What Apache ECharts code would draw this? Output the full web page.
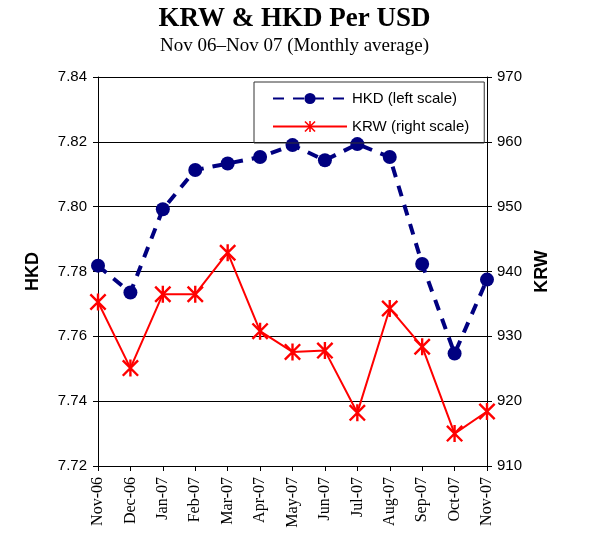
<!DOCTYPE html>
<html>
<head>
<meta charset="utf-8">
<script src="https://cdn.jsdelivr.net/npm/echarts@6/dist/echarts.min.js"></script>
<style>
  html, body { margin: 0; padding: 0; background: #fff; }
  #chart { width: 589px; height: 540px; }
</style>
</head>
<body>
<div id="chart"></div>
<script>
// months on the x axis
var months = ['Nov-06', 'Dec-06', 'Jan-07', 'Feb-07', 'Mar-07', 'Apr-07', 'May-07',
  'Jun-07', 'Jul-07', 'Aug-07', 'Sep-07', 'Oct-07', 'Nov-07'];

// HKD per USD (left scale)
var hkd = [7.7818, 7.7735, 7.7992, 7.8113, 7.8133, 7.8153, 7.8190,
  7.8143, 7.8193, 7.8153, 7.7823, 7.7547, 7.7775];

// KRW per USD (right scale)
var krw = [935.3, 925.1, 936.5, 936.5, 942.9, 930.8, 927.6,
  927.8, 918.2, 934.3, 928.4, 915.0, 918.4];

var hkdTicks = { min: 7.72, max: 7.84, step: 0.02 };
var krwTicks = { min: 910, max: 970, step: 10 };

// asterisk marker (vertical bar + X)
var starPath = 'path://M-1.4,-10L1.4,-10L1.4,10L-1.4,10Z' +
  'M-10,-8L-8,-10L10,8L8,10Z' +
  'M8,-10L10,-8L-8,10L-10,8Z';

var sans = 'Liberation Sans, Arial, sans-serif';
var serif = 'Liberation Serif, Times New Roman, serif';

var chart = echarts.init(document.getElementById('chart'));

chart.setOption({
  animation: false,
  backgroundColor: '#fff',
  title: {
    text: 'KRW & HKD Per USD',
    subtext: 'Nov 06\u2013Nov 07 (Monthly average)',
    left: 'center',
    top: 1,
    itemGap: 4,
    textStyle: { fontFamily: serif, fontWeight: 'bold', fontSize: 27, color: '#000' },
    subtextStyle: { fontFamily: serif, fontSize: 19, color: '#000' }
  },
  legend: {
    orient: 'vertical',
    left: 254,
    top: 82,
    padding: [9, 15, 9, 18],
    itemGap: 13,
    itemWidth: 74,
    itemHeight: 14,
    borderColor: '#333',
    borderWidth: 1,
    textStyle: { fontFamily: sans, fontSize: 15, color: '#000' },
    data: ['HKD (left scale)', 'KRW (right scale)']
  },
  grid: { left: 98, right: 102, top: 77, bottom: 74, containLabel: false },
  xAxis: {
    type: 'category',
    data: months,
    boundaryGap: false,
    axisLine: { lineStyle: { color: '#000', width: 1 } },
    axisTick: { alignWithLabel: true, length: 5, lineStyle: { color: '#000' } },
    axisLabel: {
      rotate: 90,
      margin: 11,
      interval: 0,
      fontFamily: serif,
      fontSize: 16,
      color: '#000'
    },
    splitLine: { show: false }
  },
  yAxis: [
    {
      type: 'value',
      name: 'HKD',
      nameLocation: 'middle',
      nameGap: 56,
      nameRotate: 90,
      nameTextStyle: { fontFamily: sans, fontWeight: 'bold', fontSize: 18, color: '#000' },
      min: hkdTicks.min,
      max: hkdTicks.max,
      interval: hkdTicks.step,
      axisLine: { show: true, lineStyle: { color: '#000', width: 1 } },
      axisTick: { show: true, length: 5, lineStyle: { color: '#000' } },
      axisLabel: {
        fontFamily: sans, fontSize: 15, color: '#000', margin: 11,
        formatter: function (v) { return v.toFixed(2); }
      },
      splitLine: { show: true, lineStyle: { color: '#000', width: 1 } }
    },
    {
      type: 'value',
      name: 'KRW',
      nameLocation: 'middle',
      nameGap: 40,
      nameRotate: 90,
      nameTextStyle: { fontFamily: sans, fontWeight: 'bold', fontSize: 18, color: '#000' },
      min: krwTicks.min,
      max: krwTicks.max,
      interval: krwTicks.step,
      axisLine: { show: true, lineStyle: { color: '#000', width: 1 } },
      axisTick: { show: true, length: 5, lineStyle: { color: '#000' } },
      axisLabel: { fontFamily: sans, fontSize: 15, color: '#000', margin: 10 },
      splitLine: { show: false }
    }
  ],
  series: [
    {
      name: 'HKD (left scale)',
      type: 'line',
      yAxisIndex: 0,
      data: hkd,
      symbol: 'circle',
      symbolSize: 14,
      z: 3,
      itemStyle: { color: '#000080' },
      lineStyle: { color: '#000080', width: 4, type: [11, 9] }
    },
    {
      name: 'KRW (right scale)',
      type: 'line',
      yAxisIndex: 1,
      data: krw,
      symbol: starPath,
      symbolSize: 17,
      z: 4,
      itemStyle: { color: '#ff0000' },
      lineStyle: { color: '#ff0000', width: 2 }
    }
  ]
});
</script>
</body>
</html>
